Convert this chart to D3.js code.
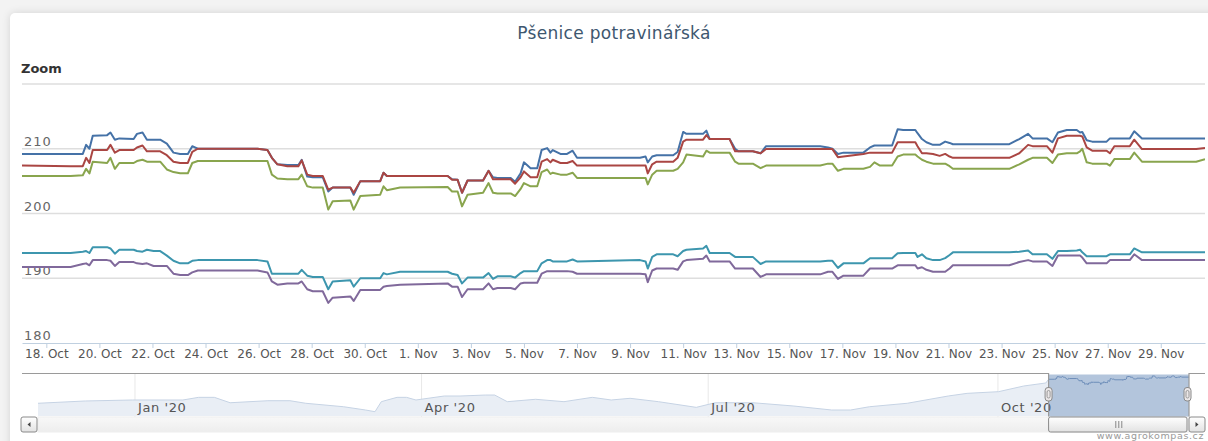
<!DOCTYPE html>
<html>
<head>
<meta charset="utf-8">
<title>Pšenice potravinářská</title>
<style>
    body {
        margin: 0;
        background: #f3f3f3;
        font-family: 'DejaVu Sans', sans-serif;
        overflow: hidden;
    }
    #box {
        position: absolute;
        left: 10px;
        top: 13px;
        width: 1260px;
        height: 480px;
        background: #fff;
        border-radius: 5px;
        box-shadow: 0 0 9px rgba(0,0,0,0.13);
    }
    svg { position: absolute; left: 0; top: 0; }
</style>
</head>
<body>
<div id="box"></div>
<svg id="vis" width="1208" height="441"></svg>
<script src="https://d3js.org/d3.v7.min.js"></script>
<script>

// hours after 18 Oct 2020 00:00 (UTC)
const hours = [-22, 22, 33, 36, 39, 42, 55, 58, 62, 66, 79, 82, 87, 91, 97, 103, 109, 115, 121, 128,
    132, 137, 191, 200, 204, 209, 218, 228, 231, 236, 241, 250, 255, 259, 275, 278, 284, 302, 305, 308,
    320, 363, 367, 372, 376, 381, 395, 400, 404, 408, 420, 424, 429, 432, 438, 444, 448, 453, 456, 458,
    465, 471, 476, 480, 537, 542, 544, 548, 552, 567, 571, 576, 579, 594, 597, 600, 618, 623, 626, 639,
    646, 651, 700, 707, 711, 716, 721, 739, 745, 749, 754, 765, 770, 775, 786, 788, 792, 796, 802, 808,
    813, 817, 820, 871, 880, 888, 892, 905, 910, 915, 923, 932, 935, 937, 941, 946, 959, 962, 966, 980,
    984, 991, 1040, 1048]

const blue = [209.2, 209.2, 209.2, 210.6, 210.0, 212.0, 212.1, 212.5, 211.4, 211.6, 211.5, 212.3, 212.5, 211.4, 211.4, 211.4, 210.8, 209.4, 209.2, 209.2,
    210.4, 210.0, 210.0, 209.8, 208.6, 207.6, 207.5, 207.5, 208.3, 205.7, 205.6, 205.6, 203.4, 204.0, 204.0, 202.9, 205.0, 205.0, 206.3, 205.8,
    205.8, 205.8, 205.3, 205.2, 203.2, 205.1, 205.1, 206.6, 205.6, 205.5, 205.5, 204.9, 206.2, 207.9, 207.0, 207.0, 209.8, 210.1, 209.4, 209.8,
    209.2, 209.2, 209.7, 208.6, 208.6, 208.8, 207.9, 208.8, 209.0, 209.0, 209.5, 212.6, 212.3, 212.3, 212.8, 211.5, 211.5, 210.0, 209.6, 209.6,
    209.3, 210.4, 210.4, 210.2, 210.0, 209.2, 209.4, 209.4, 210.2, 210.5, 210.5, 210.5, 213.0, 212.9, 212.9, 212.4, 211.5, 211.0, 210.6, 210.6,
    211.1, 210.9, 210.7, 210.7, 211.5, 212.3, 211.6, 211.6, 211.0, 212.5, 212.9, 212.9, 212.5, 212.6, 211.3, 211.1, 211.1, 211.6, 211.6, 211.6,
    212.7, 211.6, 211.6, 211.6]

const red = [207.4, 207.3, 207.3, 208.6, 207.8, 209.8, 209.8, 210.6, 209.4, 209.8, 209.8, 210.2, 210.5, 209.6, 209.6, 209.6, 209.0, 208.0, 207.8, 207.8,
    209.5, 210.0, 210.0, 209.8, 208.6, 207.6, 207.3, 207.3, 208.2, 206.0, 205.8, 205.8, 203.7, 204.0, 204.0, 203.2, 205.0, 205.0, 206.3, 205.8,
    205.8, 205.8, 205.2, 205.2, 203.2, 205.1, 205.1, 206.6, 205.3, 205.3, 205.3, 204.6, 205.6, 206.5, 205.6, 205.6, 208.0, 208.4, 207.9, 208.3,
    207.8, 207.8, 208.1, 207.4, 207.4, 207.4, 206.2, 207.6, 208.0, 208.0, 208.6, 211.1, 211.4, 211.4, 212.1, 211.5, 211.5, 209.6, 209.6, 209.6,
    209.3, 209.95, 209.95, 209.95, 209.95, 208.7, 208.8, 209.2, 209.4, 209.4, 209.4, 209.4, 211.0, 211.0, 211.0, 210.4, 209.3, 209.3, 209.2, 208.9,
    209.2, 208.8, 208.6, 208.6, 209.3, 210.6, 210.4, 210.4, 209.4, 211.6, 212.0, 212.0, 212.0, 211.9, 210.2, 209.7, 209.7, 209.3, 210.4, 210.4,
    211.4, 209.95, 209.95, 210.1]

const green = [205.8, 205.8, 205.9, 206.9, 206.2, 208.0, 207.8, 208.6, 206.9, 207.8, 207.8, 208.1, 208.3, 208.0, 208.0, 208.0, 206.8, 206.4, 206.2, 206.2,
    207.8, 208.1, 208.1, 208.1, 206.0, 205.4, 205.3, 205.3, 206.0, 204.2, 204.0, 204.0, 200.6, 201.9, 202.0, 200.6, 202.7, 202.9, 204.2, 203.6,
    204.0, 204.1, 203.4, 203.4, 201.1, 202.9, 203.2, 204.7, 203.2, 203.1, 203.1, 202.7, 203.8, 204.7, 204.2, 204.2, 206.4, 206.8, 206.1, 206.3,
    206.0, 206.0, 206.3, 205.5, 205.5, 205.5, 204.5, 206.0, 206.6, 206.6, 206.9, 207.9, 209.1, 208.8, 209.7, 209.4, 209.4, 208.0, 207.7, 207.7,
    207.0, 207.4, 207.4, 207.7, 207.7, 206.6, 206.9, 206.9, 207.2, 207.9, 207.4, 207.4, 208.8, 209.1, 209.1, 208.8, 208.3, 208.0, 207.7, 207.7,
    207.7, 207.3, 206.9, 206.9, 207.6, 208.3, 208.6, 208.6, 207.8, 209.1, 209.3, 209.3, 209.6, 210.0, 207.9, 207.7, 207.7, 207.4, 208.4, 208.4,
    209.4, 208.0, 208.0, 208.4]

const purple = [191.75, 191.75, 192.2, 192.3, 192.0, 192.8, 192.8, 192.7, 191.9, 192.5, 192.5, 192.3, 192.2, 192.3, 191.9, 191.9, 191.9, 190.7, 190.5, 190.5,
    190.9, 191.2, 191.2, 190.9, 189.5, 189.0, 189.2, 189.2, 189.5, 188.3, 188.0, 188.0, 186.2, 187.0, 187.2, 186.5, 188.2, 188.2, 188.7, 188.8,
    189.0, 189.2, 188.7, 188.7, 187.1, 188.3, 188.3, 189.2, 188.3, 188.5, 188.5, 188.3, 189.2, 189.3, 189.3, 189.3, 190.7, 191.1, 191.1, 191.1,
    191.1, 191.1, 191.0, 190.7, 190.7, 190.6, 189.4, 191.2, 191.5, 191.5, 191.3, 192.6, 192.8, 193.0, 193.5, 192.6, 192.6, 191.5, 191.5, 191.5,
    190.2, 190.6, 190.6, 191.0, 191.0, 189.9, 190.4, 190.4, 191.5, 191.5, 191.5, 191.5, 192.0, 192.0, 192.0, 191.5, 191.7, 191.3, 191.0, 191.0,
    191.0, 191.5, 192.0, 192.0, 192.5, 192.8, 192.6, 192.6, 191.9, 193.5, 193.5, 193.5, 193.5, 193.2, 192.3, 192.3, 192.3, 192.8, 192.8, 192.8,
    193.7, 192.8, 192.8, 192.8]

const teal = [193.9, 193.9, 194.1, 194.2, 193.9, 194.8, 194.8, 194.6, 193.8, 194.4, 194.4, 194.2, 194.1, 194.4, 194.2, 194.2, 193.5, 192.7, 192.3, 192.3,
    192.7, 192.8, 192.8, 192.6, 190.7, 190.7, 190.7, 190.7, 191.3, 190.4, 190.2, 190.2, 188.3, 189.5, 189.7, 188.7, 190.0, 190.0, 190.8, 190.6,
    191.0, 191.0, 190.7, 190.5, 189.2, 190.1, 190.1, 190.8, 189.9, 190.3, 190.3, 190.1, 190.8, 191.1, 191.1, 191.1, 192.3, 192.8, 192.8, 192.6,
    192.6, 192.6, 192.9, 192.6, 192.8, 192.6, 191.5, 193.3, 193.7, 193.7, 193.4, 194.2, 194.4, 194.6, 195.0, 193.9, 193.9, 193.3, 193.3, 193.3,
    192.2, 192.6, 192.6, 192.7, 192.7, 191.6, 192.3, 192.3, 193.1, 193.1, 193.1, 193.1, 193.85, 193.9, 193.9, 193.3, 193.7, 193.1, 192.8, 192.8,
    193.1, 193.6, 194.0, 194.0, 194.1, 194.3, 193.7, 193.7, 193.0, 194.2, 194.2, 194.3, 194.4, 194.0, 193.4, 193.4, 193.4, 193.7, 193.7, 193.7,
    194.6, 194.0, 194.0, 194.0]

// navigator: longer history of the first series (before the zoomed range)
const navDates = ['2019-12-01', '2019-12-16', '2019-12-31', '2020-01-16', '2020-01-21', '2020-01-26', '2020-01-31', '2020-02-12',
    '2020-02-19', '2020-02-24', '2020-03-07', '2020-03-14', '2020-03-17', '2020-03-19', '2020-03-24', '2020-03-27', '2020-03-30',
    '2020-04-08', '2020-04-13', '2020-04-21', '2020-04-24', '2020-04-28', '2020-05-07', '2020-05-16', '2020-05-25', '2020-05-31',
    '2020-06-06', '2020-06-15', '2020-06-27', '2020-07-03', '2020-07-15', '2020-07-28', '2020-08-09', '2020-08-15', '2020-08-21',
    '2020-09-02', '2020-09-15', '2020-09-21', '2020-10-01', '2020-10-09', '2020-10-16']
const navValues = [182.1, 184.7, 185.8, 185.8, 188.8, 188.8, 182.7, 185.0, 185.0, 182.1, 178.2, 174.5, 172.6, 183.9, 188.8, 188.8, 185.8,
    190.3, 190.3, 191.4, 191.4, 183.9, 186.6, 183.9, 188.8, 185.8, 187.7, 183.9, 177.5, 182.7, 182.7, 179.0, 174.5, 174.5, 178.2,
    182.1, 190.3, 193.3, 195.2, 201.6, 205.0]

const names = ['blue', 'red', 'green', 'purple', 'teal']
const colors = ['#4572A7', '#AA4643', '#89A54E', '#80699B', '#3D96AE']
const yTicks = [180, 190, 200, 210, 220]

const t0 = Date.UTC(2020, 9, 18)
const toDate = h => new Date(t0 + h * 3600e3)
const dates = hours.map(toDate)

const svg = d3.select('#vis')

const plot = {left: 22, right: 1205, top: 84, bottom: 343}

const x = d3.scaleUtc()
    .domain(d3.extent(dates))
    .range([plot.left, plot.right])

const y = d3.scaleLinear()
    .domain([180, 220])
    .range([plot.bottom, plot.top])

// title
svg.append('text')
    .attr('x', 614)
    .attr('y', 39)
    .attr('text-anchor', 'middle')
    .attr('fill', '#3E576F')
    .attr('font-size', 17)
    .attr('letter-spacing', 0.3)
    .text('Pšenice potravinářská')

svg.append('text')
    .attr('x', 21)
    .attr('y', 73)
    .attr('fill', '#333')
    .attr('font-size', 13)
    .attr('font-weight', 'bold')
    .text('Zoom')

// grid
svg.append('g')
    .selectAll('line')
    .data(yTicks.filter(d => d > 180))
    .join('line')
    .attr('x1', plot.left)
    .attr('x2', plot.right)
    .attr('y1', d => y(d))
    .attr('y2', d => y(d))
    .attr('stroke', '#DEDEDE')
    .attr('stroke-width', 1.5)

svg.append('g')
    .selectAll('text')
    .data(yTicks.filter(d => d < 220))
    .join('text')
    .attr('x', 24)
    .attr('y', d => y(d) - 3)
    .attr('fill', '#666')
    .attr('font-size', 13)
    .attr('letter-spacing', 1)
    .text(d => d)

// x axis
const xTicks = d3.utcDay.range(new Date(t0), x.domain()[1], 2)
const xAxis = svg.append('g')
    .attr('transform', `translate(0,${plot.bottom})`)
    .call(d3.axisBottom(x).tickValues(xTicks).tickFormat(d3.utcFormat('%-d. %b')).tickSize(5).tickSizeOuter(0))
xAxis.select('.domain').attr('stroke', '#C0D0E0')
xAxis.selectAll('.tick line').attr('stroke', '#C0D0E0')
xAxis.selectAll('.tick text')
    .attr('y', 6)
    .attr('fill', '#555')
    .attr('font-size', 12)
    .attr('font-family', 'DejaVu Sans, sans-serif')

// series
svg.append('clipPath').attr('id', 'plotclip')
    .append('rect')
    .attr('x', plot.left).attr('y', plot.top - 10)
    .attr('width', plot.right - plot.left).attr('height', plot.bottom - plot.top + 10)

const series = [blue, red, green, purple, teal]
const line = d3.line()
    .x((d, i) => x(dates[i]))
    .y(d => y(d))

svg.append('g')
    .attr('clip-path', 'url(#plotclip)')
    .selectAll('path')
    .data(series)
    .join('path')
    .attr('d', d => line(d))
    .attr('fill', 'none')
    .attr('stroke', (d, i) => colors[i])
    .attr('stroke-width', 2)
    .attr('stroke-linejoin', 'round')

// navigator
const nav = {left: 38, right: 1189, top: 373.5, bottom: 417}

const navPoints = navDates.map((d, i) => ({date: new Date(d + 'T05:00Z'), value: navValues[i]}))
    .concat(dates.map((d, i) => ({date: d, value: blue[i]})))

const navX = d3.scaleUtc()
    .domain([navPoints[0].date, x.domain()[1]])
    .range([nav.left, nav.right])

const navY = d3.scaleLinear()
    .domain([170, 214])
    .range([414, 375])

const maskL = navX(x.domain()[0])
const maskR = navX(x.domain()[1])

svg.append('g')
    .selectAll('line')
    .data(navX.ticks(d3.utcMonth.every(3)))
    .join('line')
    .attr('x1', d => navX(d)).attr('x2', d => navX(d))
    .attr('y1', nav.top).attr('y2', nav.bottom)
    .attr('stroke', '#E8E8E8')

const defs = svg.append('defs')
const outClip = defs.append('clipPath').attr('id', 'navout')
outClip.append('rect').attr('x', nav.left).attr('y', nav.top).attr('width', maskL - nav.left).attr('height', nav.bottom - nav.top)
outClip.append('rect').attr('x', maskR).attr('y', nav.top).attr('width', nav.right - maskR).attr('height', nav.bottom - nav.top)
defs.append('clipPath').attr('id', 'navin')
    .append('rect').attr('x', maskL).attr('y', nav.top).attr('width', maskR - maskL).attr('height', nav.bottom - nav.top)

const navArea = d3.area()
    .x(d => navX(d.date))
    .y0(nav.bottom - 1)
    .y1(d => navY(d.value))

const navLine = d3.line()
    .x(d => navX(d.date))
    .y(d => navY(d.value))

const outG = svg.append('g').attr('clip-path', 'url(#navout)')
outG.append('path').attr('d', navArea(navPoints)).attr('fill', '#E9EEF5')
outG.append('path').attr('d', navLine(navPoints)).attr('fill', 'none').attr('stroke', '#C6D3E4').attr('stroke-width', 1)

svg.append('rect')
    .attr('x', maskL).attr('y', nav.top + 1)
    .attr('width', maskR - maskL).attr('height', nav.bottom - nav.top - 1)
    .attr('fill', '#B3C5DC')
svg.append('g').attr('clip-path', 'url(#navin)')
    .append('path').attr('d', navLine(navPoints)).attr('fill', 'none').attr('stroke', '#6E8EB9').attr('stroke-width', 1)

svg.append('g')
    .selectAll('text')
    .data(navX.ticks(d3.utcMonth.every(3)))
    .join('text')
    .attr('x', d => navX(d) + 3)
    .attr('y', 412)
    .attr('fill', '#555')
    .attr('font-size', 13)
    .attr('letter-spacing', 0.6)
    .text(d3.utcFormat("%b '%y"))

// outline
svg.append('path')
    .attr('d', `M${plot.left},${nav.top}H${maskL}V${nav.bottom}M${maskR},${nav.bottom}V${nav.top}H${plot.right}`)
    .attr('fill', 'none')
    .attr('stroke', '#9A9A9A')
    .attr('stroke-width', 1.2)

// scrollbar
const grad = defs.append('linearGradient').attr('id', 'sb').attr('x1', 0).attr('y1', 0).attr('x2', 0).attr('y2', 1)
grad.append('stop').attr('offset', 0).attr('stop-color', '#FFFFFF')
grad.append('stop').attr('offset', 1).attr('stop-color', '#E2E2E2')
const track = defs.append('linearGradient').attr('id', 'tr').attr('x1', 0).attr('y1', 0).attr('x2', 0).attr('y2', 1)
track.append('stop').attr('offset', 0).attr('stop-color', '#F8F8F8')
track.append('stop').attr('offset', 1).attr('stop-color', '#EDEDED')

const sbTop = nav.bottom, sbH = 15
svg.append('rect')
    .attr('x', nav.left).attr('y', sbTop).attr('width', nav.right - nav.left).attr('height', sbH)
    .attr('fill', 'url(#tr)').attr('stroke', '#EEEEEE')

svg.append('rect')
    .attr('x', maskL).attr('y', sbTop).attr('width', maskR - maskL - 2).attr('height', sbH)
    .attr('rx', 2).attr('fill', 'url(#sb)').attr('stroke', '#8A8A8A')

const gripX = (maskL + maskR) / 2
svg.append('g')
    .selectAll('line')
    .data([-3, 0, 3])
    .join('line')
    .attr('x1', d => gripX + d).attr('x2', d => gripX + d)
    .attr('y1', sbTop + 4).attr('y2', sbTop + 11)
    .attr('stroke', '#888')

const buttons = [[plot.left - 1, -1], [nav.right, 1]]
buttons.forEach(([bx, dir]) => {
    svg.append('rect')
        .attr('x', bx).attr('y', sbTop).attr('width', 16).attr('height', sbH)
        .attr('rx', 2).attr('fill', 'url(#sb)').attr('stroke', '#8A8A8A')
    const cx = bx + 8, cy = sbTop + sbH / 2
    svg.append('path')
        .attr('d', `M${cx - 1.5 * dir},${cy - 2.5}L${cx + 1.5 * dir},${cy}L${cx - 1.5 * dir},${cy + 2.5}Z`)
        .attr('fill', '#444')
})

// handles
svg.append('g')
    .selectAll('g')
    .data([maskL, maskR - 1.5])
    .join('g')
    .each(function(m) {
        const g = d3.select(this)
        g.append('rect')
            .attr('x', m - 3.5).attr('y', 387.5).attr('width', 7).attr('height', 13.5)
            .attr('rx', 3).attr('fill', '#EBE7E8').attr('stroke', '#8A8A8A')
        g.append('rect')
            .attr('x', m - 1.5).attr('y', 390.5).attr('width', 3).attr('height', 7.5)
            .attr('rx', 1.5).attr('fill', 'none').attr('stroke', '#999')
    })

svg.append('text')
    .attr('x', 1204)
    .attr('y', 439)
    .attr('text-anchor', 'end')
    .attr('fill', '#999')
    .attr('font-size', 9.5)
    .attr('letter-spacing', 0.6)
    .text('www.agrokompas.cz')

</script>
</body>
</html>
